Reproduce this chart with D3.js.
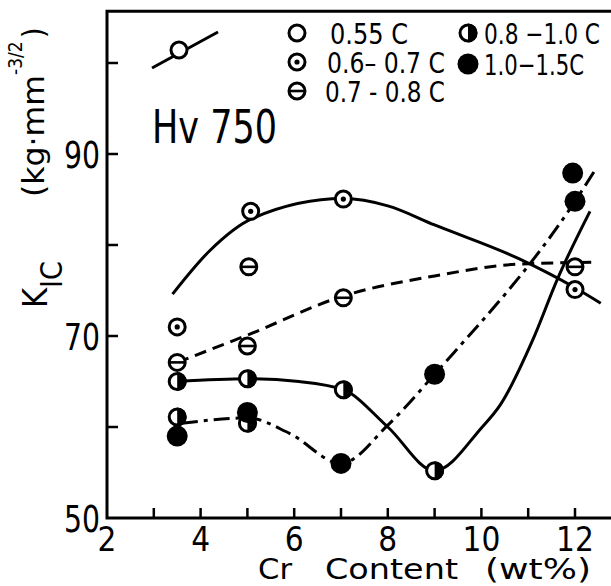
<!DOCTYPE html>
<html>
<head>
<meta charset="utf-8">
<script src="https://cdn.jsdelivr.net/npm/d3@7/dist/d3.min.js"></script>
<style>
  body { margin: 0; background: #fff; }
  text { font-family: 'Liberation Sans Narrow', 'DejaVu Sans Condensed', 'Liberation Sans', sans-serif; fill: #000; }
</style>
</head>
<body>
<div id="chart"></div>
<script>
// measured points, [Cr wt%, KIC]
const pts06 = [[3.5, 71.0], [5.07, 83.7], [7.05, 85.05], [12, 75.1]];
const pts07 = [[3.5, 67.1], [5.0, 68.9], [5.03, 77.6], [7.05, 74.2], [12, 77.6]];
const pts08 = [[3.5, 65.0], [5.0, 65.3], [7.05, 64.1], [9.0, 55.2], [3.5, 61.1], [5.0, 60.4]];
const pts10 = [[3.5, 59.0], [5.0, 61.6], [7.0, 56.0], [9.0, 65.8], [12, 84.8], [11.95, 87.9]];

// hand drawn trend curves
const fit06 = [[3.4, 74.6], [4.2, 79.4], [5.1, 82.9], [7.05, 85.1], [8, 84.3], [9, 82.2], [10.8, 78.5], [12, 75.3], [12.55, 73.6]];
const fit07 = [[3.5, 67.1], [5.0, 70.1], [7.05, 74.4], [9, 76.6], [10.8, 77.9], [12.45, 78.1]];
const fit08 = [[3.5, 65.0], [5.0, 65.3], [6.1, 65.0], [7.05, 64.1], [8, 60.0], [9.0, 55.2], [10.0, 59.9], [10.4, 62.4], [11.1, 69.6], [11.62, 76.2], [12.32, 83.7]];
const fit10 = [[3.6, 60.4], [5.0, 61.0], [5.9, 59.3], [7.0, 56.0], [8, 60.2], [9, 65.8], [12, 84.8], [12.45, 88.4]];

const xTickValues = [3, 4, 5, 6, 7, 8, 9, 10, 11, 12];
const xTickLabels = [2, 4, 6, 8, 10, 12];
const yTickValues = [60, 70, 80, 90, 100];
const yTickLabels = [50, 70, 90];

const legendLabels = ['0.55 C', '0.6\u2013 0.7 C', '0.7 - 0.8 C', '0.8 \u22121.0 C', '1.0\u22121.5C'];
const legendKinds = ['open', 'dot', 'theta', 'half', 'full'];

const width = 611, height = 586;
const svg = d3.select('#chart').append('svg')
  .attr('width', width).attr('height', height);

const x = d3.scaleLinear().domain([2, 12]).range([107, 575]);
const y = d3.scaleLinear().domain([50, 90]).range([518, 154]);

// frame
svg.append('path')
  .attr('d', `M${width},${y(105.7)}H${x(2)}V${y(50)}H${width}`)
  .attr('fill', 'none').attr('stroke', '#000').attr('stroke-width', 3);

svg.append('g').selectAll('line').data(xTickValues).join('line')
  .attr('x1', d => x(d)).attr('x2', d => x(d))
  .attr('y1', y(50)).attr('y2', y(50) - 10)
  .attr('stroke', '#000').attr('stroke-width', 2.5);

svg.append('g').selectAll('line').data(yTickValues).join('line')
  .attr('x1', x(2)).attr('x2', x(2) + 11)
  .attr('y1', d => y(d)).attr('y2', d => y(d))
  .attr('stroke', '#000').attr('stroke-width', 2.5);

svg.append('g').selectAll('text').data(xTickLabels).join('text')
  .attr('x', d => x(d)).attr('y', 551)
  .attr('text-anchor', 'middle').attr('font-size', 33)
  .text(d => d);

svg.append('g').selectAll('text').data(yTickLabels).join('text')
  .attr('x', x(2) - 7).attr('y', d => y(d) + 14)
  .attr('text-anchor', 'end').attr('font-size', 38)
  .attr('textLength', 36).attr('lengthAdjust', 'spacingAndGlyphs')
  .text(d => d);

// axis titles
const xt = svg.append('g').attr('font-size', 29);
xt.append('text').attr('x', 258).attr('y', 579)
  .attr('textLength', 34).attr('lengthAdjust', 'spacingAndGlyphs').text('Cr');
xt.append('text').attr('x', 325).attr('y', 579)
  .attr('textLength', 133).attr('lengthAdjust', 'spacingAndGlyphs').text('Content');
xt.append('text').attr('x', 485).attr('y', 579)
  .attr('textLength', 106).attr('lengthAdjust', 'spacingAndGlyphs').text('(wt%)');

const kt = svg.append('text').attr('transform', 'translate(47,308) rotate(-90)');
kt.append('tspan').attr('font-size', 34).text('K');
kt.append('tspan').attr('font-size', 30).attr('dy', 15).text('IC');

const ut = svg.append('text').attr('transform', 'translate(44,197) rotate(-90)')
  .attr('font-size', 31);
ut.append('tspan').attr('textLength', 122).attr('lengthAdjust', 'spacingAndGlyphs').text('(kg\u00b7mm');
ut.append('tspan').attr('font-size', 19).attr('dy', -22).text('-3/2');
ut.append('tspan').attr('dy', 22).attr('dx', 3).text(')');

svg.append('text').attr('x', 152).attr('y', 143)
  .attr('font-size', 46).attr('textLength', 125).attr('lengthAdjust', 'spacingAndGlyphs')
  .text('Hv 750');

// curves
const line = d3.line().x(d => x(d[0])).y(d => y(d[1])).curve(d3.curveMonotoneX);
const curves = [
  { data: fit06, dash: null },
  { data: fit07, dash: '12 7' },
  { data: fit08, dash: null },
  { data: fit10, dash: '16 6 4 6' }
];
svg.append('g').selectAll('path').data(curves).join('path')
  .attr('d', d => line(d.data))
  .attr('fill', 'none').attr('stroke', '#000').attr('stroke-width', 3)
  .attr('stroke-dasharray', d => d.dash);

function marker(g, cx, cy, kind) {
  const r = 8;
  if (kind === 'full') {
    g.append('circle').attr('cx', cx).attr('cy', cy).attr('r', 10.5).attr('fill', '#000');
    return;
  }
  g.append('circle').attr('cx', cx).attr('cy', cy).attr('r', r)
    .attr('fill', '#fff').attr('stroke', '#000').attr('stroke-width', 3);
  if (kind === 'dot') {
    g.append('circle').attr('cx', cx).attr('cy', cy).attr('r', 2.6).attr('fill', '#000');
  } else if (kind === 'theta') {
    g.append('line').attr('x1', cx - r).attr('x2', cx + r).attr('y1', cy).attr('y2', cy)
      .attr('stroke', '#000').attr('stroke-width', 2.6);
  } else if (kind === 'half') {
    g.append('path')
      .attr('d', `M${cx},${cy - r - 1.5}A${r + 1.5},${r + 1.5} 0 0 1 ${cx},${cy + r + 1.5}Z`)
      .attr('fill', '#000');
  }
}

const mk = svg.append('g');
pts08.forEach(d => marker(mk, x(d[0]), y(d[1]), 'half'));
pts10.forEach(d => marker(mk, x(d[0]), y(d[1]), 'full'));
pts06.forEach(d => marker(mk, x(d[0]), y(d[1]), 'dot'));
pts07.forEach(d => marker(mk, x(d[0]), y(d[1]), 'theta'));

// sample line with open circle
svg.append('line').attr('x1', 152).attr('y1', 68).attr('x2', 218).attr('y2', 32)
  .attr('stroke', '#000').attr('stroke-width', 3);
marker(svg, 179, 50, 'open');

// legend
const legendPos = [[297, 33], [297, 62], [297, 91], [468, 33], [468, 64]];
const legendTextX = [330, 327, 325, 484, 484];
const legendTextW = [78, 118, 120, 116, 100];
const lg = svg.append('g');
legendKinds.forEach((k, i) => {
  const [lx, ly] = legendPos[i];
  marker(lg, lx, ly, k);
  lg.append('text').attr('x', legendTextX[i]).attr('y', ly + 11)
    .attr('font-size', 29)
    .attr('textLength', legendTextW[i]).attr('lengthAdjust', 'spacingAndGlyphs')
    .text(legendLabels[i]);
});
</script>
</body>
</html>
